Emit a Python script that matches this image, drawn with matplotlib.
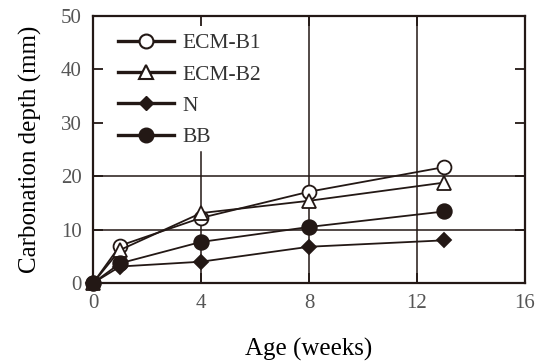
import matplotlib.pyplot as plt
from matplotlib.lines import Line2D

ink = '#231815'

age = [0, 1, 4, 8, 13]
ecm_b1 = [0, 7.0, 12.2, 17.1, 21.7]
ecm_b2 = [0, 6.2, 13.1, 15.4, 18.8]
n_mix = [0, 3.1, 4.0, 6.8, 8.0]
bb = [0, 3.7, 7.7, 10.5, 13.4]

labels = ['ECM-B1', 'ECM-B2', 'N', 'BB']
xticks = [0, 4, 8, 12, 16]
yticks = [0, 10, 20, 30, 40, 50]

plt.rcParams['font.family'] = ['Liberation Serif', 'DejaVu Serif']

fig = plt.figure(figsize=(5.42, 3.62), dpi=100)
ax = fig.add_axes([0.1716, 0.218, 0.797, 0.738])

# partial grid like the original
for y in [10, 20]:
	ax.axhline(y, color=ink, lw=1.1, zorder=1)
for x in [8, 12]:
	ax.axvline(x, color=ink, lw=1.1, zorder=1)
ax.plot([4, 4], [0, 24.5], color=ink, lw=1.1, zorder=1)

style = dict(color=ink, lw=1.3, markeredgewidth=1.3, zorder=5, clip_on=False)
ax.plot(age, ecm_b1, marker='o', ms=10, mfc='white', mec=ink, **style)
ax.plot(age, ecm_b2, marker='^', ms=10, mfc='white', mec=ink, **style)
ax.plot(age, bb, marker='o', ms=10.5, mfc=ink, mec=ink, **style)
ax.plot(age, n_mix, marker='D', ms=7.5, mfc=ink, mec=ink, **style)

ax.set_xlim(0, 16)
ax.set_ylim(0, 50)
ax.set_xticks(xticks)
ax.set_yticks(yticks)
ax.tick_params(direction='in', length=7, width=1.3, top=True, right=True,
	labelsize=15, labelcolor='#555555', color=ink, pad=8)
for s in ax.spines.values():
	s.set_linewidth(1.6)
	s.set_color(ink)
	s.set_zorder(4)

ax.set_xlabel('Age (weeks)', fontsize=18, labelpad=18, color='black')
ax.set_ylabel('Carbonation depth (mm)', fontsize=18, labelpad=14, color='black')

handles = [
	Line2D([], [], color=ink, lw=2.4, marker='o', ms=10, mfc='white', mec=ink, mew=1.5),
	Line2D([], [], color=ink, lw=2.4, marker='^', ms=10, mfc='white', mec=ink, mew=1.5),
	Line2D([], [], color=ink, lw=2.4, marker='D', ms=7.5, mfc=ink, mec=ink),
	Line2D([], [], color=ink, lw=2.4, marker='o', ms=10.5, mfc=ink, mec=ink),
]
leg = ax.legend(handles, labels, loc='upper left', bbox_to_anchor=(0.058, 0.935),
	frameon=False, fontsize=15.5, handlelength=2.6, handletextpad=0.4,
	labelspacing=0.52, borderpad=0, borderaxespad=0)
for t in leg.get_texts():
	t.set_color('#333333')

fig.savefig('out.png', dpi=100)
